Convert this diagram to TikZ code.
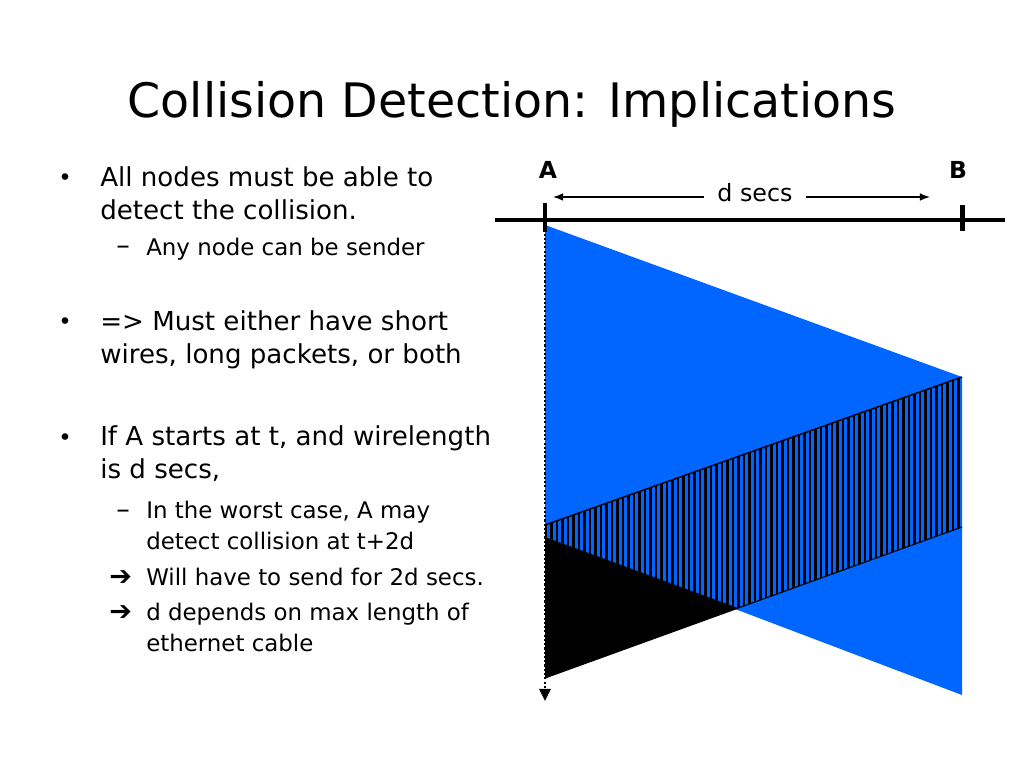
\documentclass[tikz,border=0pt]{standalone}
\usepackage{fontspec}
\setmainfont{DejaVu Sans}
\usepackage{xcolor}
\usetikzlibrary{arrows.meta,positioning}
\definecolor{wireblue}{RGB}{0,102,255}

\begin{document}
\begin{tikzpicture}[x=0.703125pt,y=-0.703125pt,>=Latex,every node/.style={inner sep=0pt}]
\tikzstyle{bodytext}=[anchor=north west,align=left,font=\fontsize{18.35}{23.2}\selectfont]
\tikzstyle{subtext}=[anchor=north west,align=left,font=\fontsize{16.1}{21.8}\selectfont]
\tikzstyle{bulletmark}=[anchor=base west,font=\fontsize{16}{20}\selectfont]
\tikzstyle{submark}=[anchor=base west,font=\fontsize{19}{22}\selectfont]
\tikzstyle{station}=[font=\bfseries\fontsize{16.5}{20}\selectfont]
\useasboundingbox (0,0) rectangle (1024,768);
% title
\node[anchor=base,font=\fontsize{33.4}{40}\selectfont] (title) at (512,118) {Collision Detection: Implications};
% bullets
\node[bulletmark] (bul1) at (58,186) {•};
\node[bodytext] (txt1) at (100,166) {All nodes must be able to\\detect the collision.};
\node[submark] (dash1) at (116,255) {–};
\node[subtext] (sub1) at (146,238) {Any node can be sender};
\node[bulletmark] (bul2) at (58,330) {•};
\node[bodytext] (txt2) at (100,310) {=> Must either have short\\wires, long packets, or both};
\node[bulletmark] (bul3) at (58,445) {•};
\node[bodytext] (txt3) at (100,425) {If A starts at t, and wirelength\\is d secs,};
\node[submark] (dash2) at (116,518) {–};
\node[subtext] (sub2) at (146,501) {In the worst case, A may\\detect collision at t+2d};
\node[submark] (arr1) at (109,585) {➔};
\node[subtext] (sub3) at (146,568) {Will have to send for 2d secs.};
\node[submark] (arr2) at (109,620) {➔};
\node[subtext] (sub4) at (146,603) {d depends on max length of\\ethernet cable};
% frames from A and from B
\fill[wireblue] (545,225) -- (962,377) -- (962,695) -- (545,537) -- cycle;
\fill[black] (545,537) -- (738,608) -- (545,678) -- cycle;
\begin{scope}
\clip (545,525) -- (962,377) -- (962,527) -- (738,608) -- (545,537) -- cycle;
\foreach \x in {546,551.5,...,962}{\draw[line width=1.55pt] (\x,370) -- (\x,615);}
\end{scope}
\draw[line width=1pt] (962,377) -- (545,525);
\draw[line width=0.8pt] (962,527) -- (545,678);
% wire and stations
\coordinate (wireL) at (495,220);
\coordinate (wireR) at (1005,220);
\coordinate (tickAtop) at (545,203);
\coordinate (tickAbot) at (545,232);
\coordinate (tickBtop) at (962,205);
\coordinate (tickBbot) at (962,231);
\draw[line width=3.5pt] (wireL) -- (wireR);
\draw[line width=3.5pt] (tickAtop) -- (tickAbot);
\draw[line width=3.5pt] (tickBtop) -- (tickBbot);
\node[station] (labelA) at (548,170) {A};
\node[station] (labelB) at (958,170) {B};
\node[font=\fontsize{16.7}{20}\selectfont,inner xsep=9pt] (dsecs) at (755,193) {d secs};
\coordinate (spanL) at (553,197);
\coordinate (spanR) at (930,197);
\draw[->,line width=0.9pt] (dsecs.west |- spanL) -- (spanL);
\draw[->,line width=0.9pt] (dsecs.east |- spanR) -- (spanR);
% time axis at A
\coordinate (timeTop) at (545,225);
\coordinate (timeEnd) at (545,701);
\draw[line width=1.5pt,dash pattern=on 1.5pt off 1.5pt,-{Triangle[length=8.5pt,width=8pt]}] (timeTop) -- (timeEnd);
\end{tikzpicture}
\end{document}
